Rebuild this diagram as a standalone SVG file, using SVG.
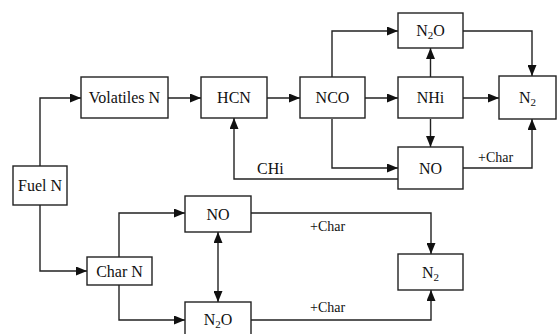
<svg xmlns="http://www.w3.org/2000/svg" width="557" height="334" viewBox="0 0 557 334">
<defs>
<style>
.box{fill:#fff;stroke:#222;stroke-width:1.4}
.t{font-family:"Liberation Serif","Times New Roman",serif;font-size:16px;fill:#111;text-anchor:middle}
.s{font-family:"Liberation Serif","Times New Roman",serif;font-size:14px;fill:#111}
.c{fill:none;stroke:#222;stroke-width:1.4}
.sub{font-size:11px}
</style>
<marker id="ah" markerWidth="11" markerHeight="9" refX="11" refY="4.5" orient="auto-start-reverse" markerUnits="userSpaceOnUse">
<path d="M0,0 L11,4.5 L0,9 Z" fill="#111"/>
</marker>
</defs>
<rect width="557" height="334" fill="#fff"/>
<g id="connectors">
<path class="c" d="M40,166 V98 H81" marker-end="url(#ah)"/>
<path class="c" d="M40,205 V271 H87" marker-end="url(#ah)"/>
<path class="c" d="M168,98 H201" marker-end="url(#ah)"/>
<path class="c" d="M267,98 H300" marker-end="url(#ah)"/>
<path class="c" d="M365,98 H398" marker-end="url(#ah)"/>
<path class="c" d="M463,98 H499" marker-end="url(#ah)"/>
<path class="c" d="M332,77 V31 H398" marker-end="url(#ah)"/>
<path class="c" d="M430.5,77 V48" marker-end="url(#ah)"/>
<path class="c" d="M463,31 H532 V76" marker-end="url(#ah)"/>
<path class="c" d="M430.5,119 V147" marker-end="url(#ah)"/>
<path class="c" d="M332,119 V168 H398" marker-end="url(#ah)"/>
<path class="c" d="M398,179 H234 V118" marker-end="url(#ah)"/>
<path class="c" d="M463,168 H532 V119" marker-end="url(#ah)"/>
<path class="c" d="M119,257 V213 H185" marker-end="url(#ah)"/>
<path class="c" d="M119,285 V320 H185" marker-end="url(#ah)"/>
<path class="c" d="M218,232 V302" marker-start="url(#ah)" marker-end="url(#ah)"/>
<path class="c" d="M251,213 H431 V254" marker-end="url(#ah)"/>
<path class="c" d="M251,320 H431 V290" marker-end="url(#ah)"/>
<text class="s" x="257" y="174" style="font-size:16px">CHi</text>
<text class="s" x="478" y="162">+Char</text>
<text class="s" x="310" y="231">+Char</text>
<text class="s" x="310" y="312">+Char</text>
</g>
<g id="fuelN"><rect class="box" x="13" y="166" width="54" height="39"/><text class="t" x="40" y="191">Fuel N</text></g>
<g id="volatilesN"><rect class="box" x="81" y="77" width="87" height="41"/><text class="t" x="124.5" y="103">Volatiles N</text></g>
<g id="HCN"><rect class="box" x="201" y="77" width="66" height="41"/><text class="t" x="234" y="103">HCN</text></g>
<g id="NCO"><rect class="box" x="300" y="77" width="65" height="41"/><text class="t" x="332.5" y="103">NCO</text></g>
<g id="NHi"><rect class="box" x="398" y="77" width="65" height="41"/><text class="t" x="430.5" y="103">NHi</text></g>
<g id="N2O_top"><rect class="box" x="398" y="13" width="65" height="35"/><text class="t" x="430.5" y="36">N<tspan class="sub" dy="3">2</tspan><tspan dy="-3">O</tspan></text></g>
<g id="N2_right"><rect class="box" x="499" y="76" width="57" height="43"/><text class="t" x="527.5" y="103">N<tspan class="sub" dy="3">2</tspan></text></g>
<g id="NO_mid"><rect class="box" x="398" y="147" width="65" height="42"/><text class="t" x="430.5" y="173.5">NO</text></g>
<g id="charN"><rect class="box" x="87" y="257" width="65" height="28"/><text class="t" x="119.5" y="276.5">Char N</text></g>
<g id="NO_low"><rect class="box" x="185" y="196" width="66" height="36"/><text class="t" x="218" y="219.5">NO</text></g>
<g id="N2O_low"><rect class="box" x="185" y="302" width="66" height="40"/><text class="t" x="218" y="325">N<tspan class="sub" dy="3">2</tspan><tspan dy="-3">O</tspan></text></g>
<g id="N2_low"><rect class="box" x="398" y="254" width="65" height="36"/><text class="t" x="430.5" y="277.5">N<tspan class="sub" dy="3">2</tspan></text></g>
</svg>
